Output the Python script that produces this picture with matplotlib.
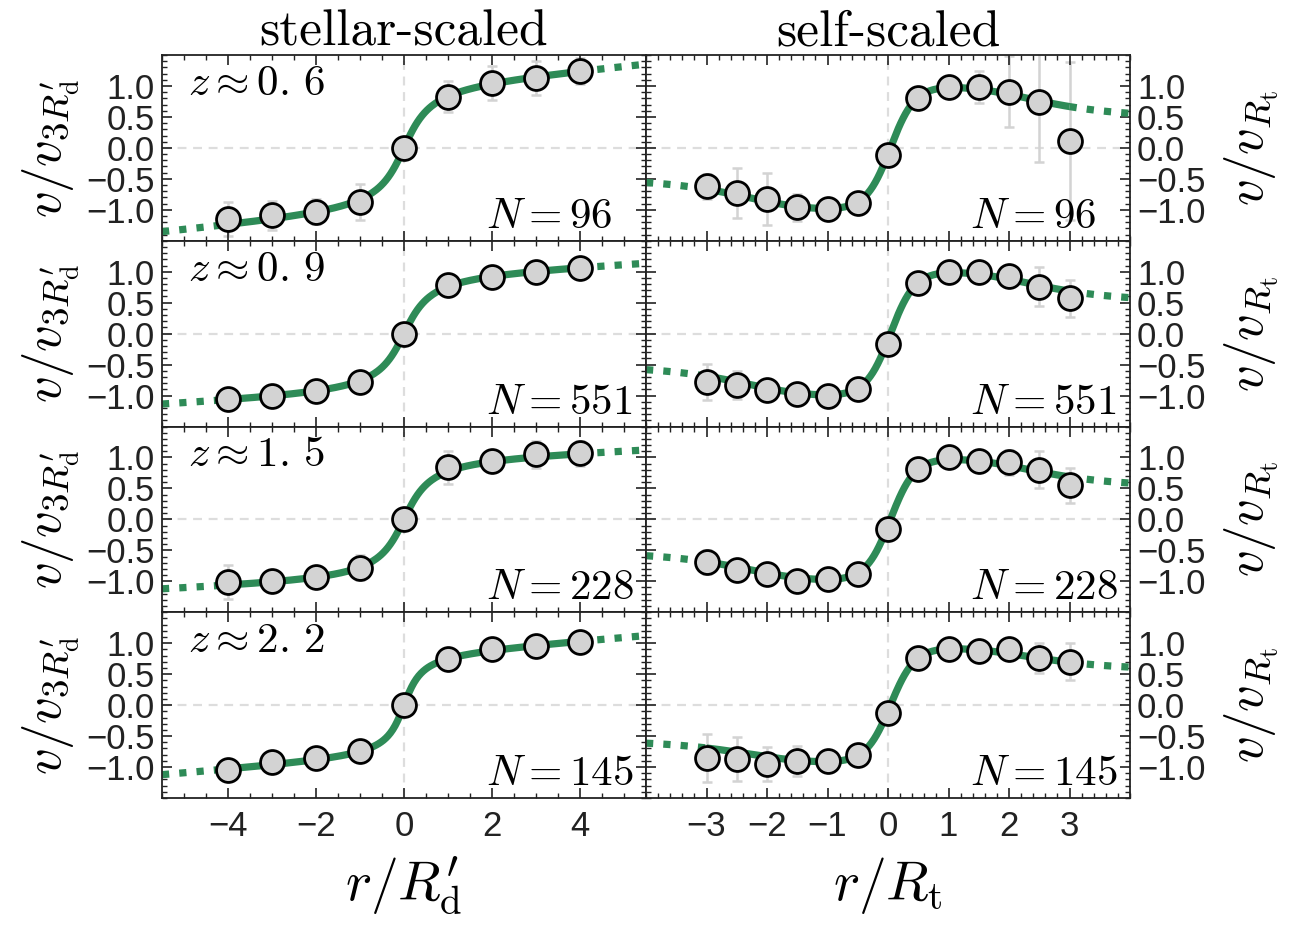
import numpy as np
import matplotlib
matplotlib.use("Agg")
import matplotlib.pyplot as plt
from matplotlib.ticker import MultipleLocator

# ---- data ----
R_STELLAR = [-4, -3, -2, -1, 0, 1, 2, 3, 4]
R_SELF = [-3, -2.5, -2, -1.5, -1, -0.5, 0, 0.5, 1, 1.5, 2, 2.5, 3]
Z_LABELS = ["0.\\,6", "0.\\,9", "1.\\,5", "2.\\,2"]
N_GAL = [96, 551, 228, 145]
XTICKS_STELLAR = [-4, -2, 0, 2, 4]
XTICKS_SELF = [-3, -2, -1, 0, 1, 2, 3]
YTICKS = [-1.0, -0.5, 0.0, 0.5, 1.0]

# stellar-scaled rotation curves (v / v_3Rd')
V_STELLAR_Z06 = [-1.15, -1.09, -1.03, -0.87, 0.00, 0.83, 1.05, 1.13, 1.24]
V_STELLAR_Z09 = [-1.05, -1.00, -0.92, -0.78, 0.00, 0.78, 0.92, 0.99, 1.06]
V_STELLAR_Z15 = [-1.01, -1.00, -0.93, -0.78, 0.00, 0.84, 0.95, 1.05, 1.07]
V_STELLAR_Z22 = [-1.04, -0.92, -0.86, -0.74, 0.00, 0.75, 0.90, 0.96, 1.02]
E_STELLAR_Z06 = [0.28, 0.23, 0.20, 0.29, 0.05, 0.25, 0.27, 0.27, 0.21]
E_STELLAR_Z09 = [0.06, 0.05, 0.05, 0.06, 0.03, 0.05, 0.05, 0.05, 0.05]
E_STELLAR_Z15 = [0.27, 0.12, 0.10, 0.20, 0.05, 0.27, 0.12, 0.22, 0.20]
E_STELLAR_Z22 = [0.10, 0.08, 0.12, 0.08, 0.05, 0.08, 0.08, 0.08, 0.10]

# self-scaled rotation curves (v / v_Rt)
V_SELF_Z06 = [-0.62, -0.73, -0.82, -0.96, -0.98, -0.89, -0.12, 0.81, 0.98, 0.98, 0.91, 0.74, 0.11]
V_SELF_Z09 = [-0.78, -0.83, -0.91, -0.97, -1.01, -0.89, -0.16, 0.82, 1.00, 1.00, 0.93, 0.76, 0.57]
V_SELF_Z15 = [-0.69, -0.82, -0.89, -0.99, -0.96, -0.88, -0.15, 0.82, 1.00, 0.94, 0.92, 0.80, 0.55]
V_SELF_Z22 = [-0.85, -0.87, -0.95, -0.90, -0.91, -0.81, -0.12, 0.76, 0.91, 0.88, 0.91, 0.76, 0.70]
E_SELF_Z06 = [0.20, 0.40, 0.42, 0.22, 0.10, 0.10, 0.05, 0.10, 0.10, 0.26, 0.58, 0.97, 1.27]
E_SELF_Z09 = [0.29, 0.23, 0.12, 0.10, 0.08, 0.08, 0.05, 0.08, 0.08, 0.10, 0.15, 0.31, 0.30]
E_SELF_Z15 = [0.20, 0.12, 0.10, 0.08, 0.08, 0.08, 0.05, 0.08, 0.08, 0.10, 0.20, 0.30, 0.28]
E_SELF_Z22 = [0.39, 0.36, 0.28, 0.24, 0.10, 0.08, 0.05, 0.08, 0.08, 0.10, 0.10, 0.24, 0.30]

# fitted model parameters per redshift bin
STELLAR_FIT_A = [1.05, 0.99, 1.02, 0.85]
STELLAR_FIT_RT = [0.45, 0.45, 0.45, 0.30]
STELLAR_FIT_S = [0.065, 0.036, 0.028, 0.055]
SELF_FIT_A = [1.00, 1.01, 0.99, 0.93]
SELF_FIT_RT = [0.40, 0.40, 0.40, 0.40]
SELF_FIT_B = [0.52, 0.50, 0.48, 0.40]
SELF_FIT_C = 2.6
SELF_FIT_R0 = 0.04

V_STELLAR = [V_STELLAR_Z06, V_STELLAR_Z09, V_STELLAR_Z15, V_STELLAR_Z22]
E_STELLAR = [E_STELLAR_Z06, E_STELLAR_Z09, E_STELLAR_Z15, E_STELLAR_Z22]
V_SELF = [V_SELF_Z06, V_SELF_Z09, V_SELF_Z15, V_SELF_Z22]
E_SELF = [E_SELF_Z06, E_SELF_Z09, E_SELF_Z15, E_SELF_Z22]

GREEN = "#2e8b57"
GREY = "#d3d3d3"


def stellar_model(r, i):
    return (STELLAR_FIT_A[i] * 2 / np.pi * np.arctan(r / STELLAR_FIT_RT[i])
            + STELLAR_FIT_S[i] * r)


def self_model(r, i):
    g = r**4 / (r**4 + SELF_FIT_C**4)
    return (SELF_FIT_A[i] * np.tanh((r - SELF_FIT_R0) / SELF_FIT_RT[i])
            * (1 - SELF_FIT_B[i] * g))


plt.rcParams.update({
    "font.family": ["Liberation Sans", "DejaVu Sans"],
    "mathtext.fontset": "cm",
    "axes.linewidth": 1.3,
    "axes.edgecolor": "#222222",
})

fig, axes = plt.subplots(4, 2, figsize=(13.01, 9.25), dpi=100)
fig.subplots_adjust(left=0.1245, right=0.8686, top=0.9405, bottom=0.1373,
                    hspace=0, wspace=0)


def draw_panel(ax, r, v, e, model, rmin, rmax, xlim):
    ax.axhline(0, color="#dddddd", ls=(0, (4, 3)), lw=1.6, zorder=0)
    ax.axvline(0, color="#dddddd", ls=(0, (4, 3)), lw=1.6, zorder=0)
    ax.errorbar(r, v, yerr=e, fmt="none", ecolor=GREY, elinewidth=1.8,
                capsize=3.5, capthick=1.8, zorder=1)
    rs = np.linspace(rmin, rmax, 300)
    ax.plot(rs, model(rs), color=GREEN, lw=5.2, solid_capstyle="butt", zorder=2)
    rl = np.linspace(xlim[0], rmin, 100)
    rr = np.linspace(rmax, xlim[1], 100)
    for seg in (rl, rr):
        ax.plot(seg, model(seg), color=GREEN, lw=5.2, ls=(0, (1, 1.4)),
                solid_capstyle="butt", zorder=2)
    ax.plot(r, v, "o", ms=17.2, mfc=GREY, mec="black", mew=2.0, zorder=3)
    ax.set_xlim(*xlim)
    ax.set_ylim(-1.5, 1.5)
    ax.set_yticks(YTICKS)
    ax.yaxis.set_minor_locator(MultipleLocator(0.1))
    ax.tick_params(which="both", direction="in", top=True, right=True,
                   left=True, bottom=True, colors="#222222", labelsize=25)
    ax.tick_params(which="major", length=7, width=1.2)
    ax.tick_params(which="minor", length=3.5, width=1.0)


for i in range(4):
    axl = axes[i, 0]
    axr = axes[i, 1]
    draw_panel(axl, R_STELLAR, V_STELLAR[i], E_STELLAR[i],
               lambda x, i=i: stellar_model(x, i), -4, 4, (-5.5, 5.5))
    draw_panel(axr, R_SELF, V_SELF[i], E_SELF[i],
               lambda x, i=i: self_model(x, i), -3, 3, (-4, 4))

    axl.set_xticks(XTICKS_STELLAR)
    axl.xaxis.set_minor_locator(MultipleLocator(0.5))
    axr.set_xticks(XTICKS_SELF)
    axr.xaxis.set_minor_locator(MultipleLocator(0.2))

    axl.tick_params(axis="y", labelleft=True, labelright=False, pad=5)
    axr.tick_params(axis="y", labelleft=False, labelright=True, pad=5)
    axl.set_ylabel(r"$v/v_{3R^{\prime}_{\rm d}}$", fontsize=38, labelpad=4)
    axr.yaxis.set_label_position("right")
    axr.set_ylabel(r"$v/v_{R_{\rm t}}$", fontsize=38, labelpad=12)

    if i < 3:
        axl.tick_params(axis="x", labelbottom=False)
        axr.tick_params(axis="x", labelbottom=False)
    else:
        axl.tick_params(axis="x", pad=9)
        axr.tick_params(axis="x", pad=9)

    axl.text(0.054, 0.785, r"$z\approx%s$" % Z_LABELS[i], transform=axl.transAxes,
             fontsize=31, ha="left", va="baseline")
    for ax in (axl, axr):
        ax.text(0.67, 0.07, r"$N=%d$" % N_GAL[i], transform=ax.transAxes,
                fontsize=31, ha="left", va="baseline")

axes[0, 0].set_title("stellar-scaled", fontfamily="cmr10", fontsize=37, pad=6)
axes[0, 1].set_title("self-scaled", fontfamily="cmr10", fontsize=37, pad=6)
axes[3, 0].set_xlabel(r"$r/R^{\prime}_{\rm d}$", fontsize=40, labelpad=8)
axes[3, 1].set_xlabel(r"$r/R_{\rm t}$", fontsize=40, labelpad=8)

fig.savefig("out.png", dpi=100)
